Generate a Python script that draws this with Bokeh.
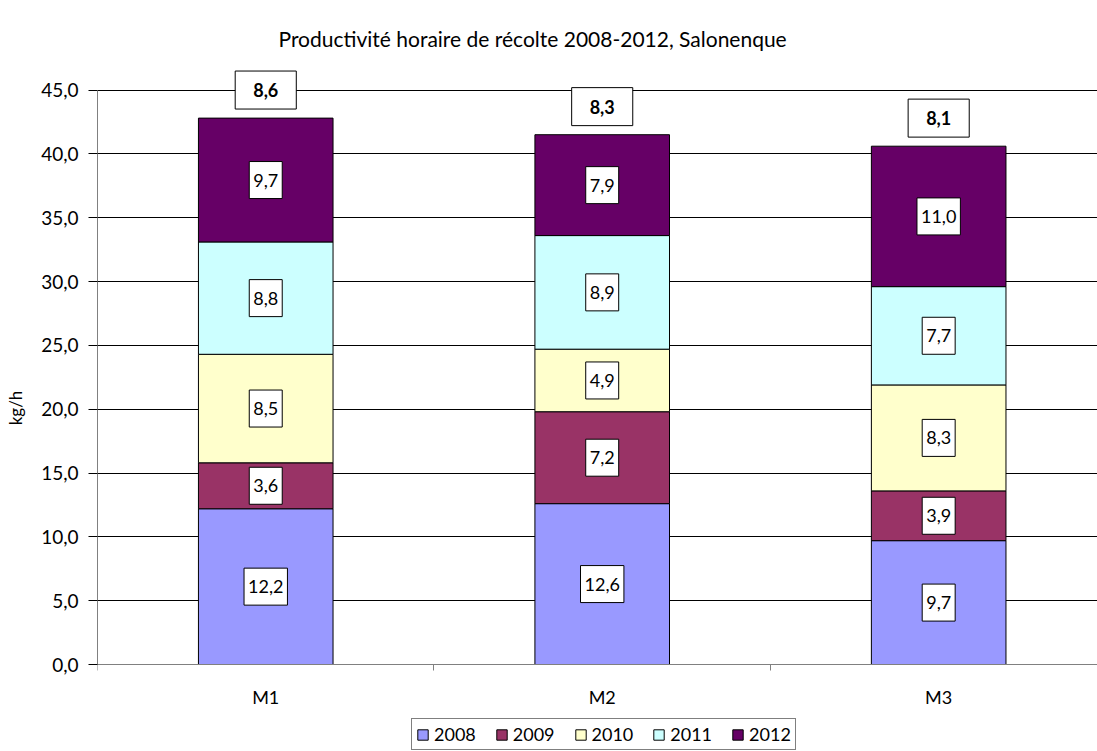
from bokeh.plotting import figure
from bokeh.models import (Range1d, FixedTicker, CustomJSTickFormatter, ColumnDataSource,
                          Legend, LegendItem, LinearAxis)
from bokeh.embed import file_html
from bokeh.resources import INLINE
from bokeh.core.properties import value

# ---------------- data ----------------
categories = ["M1", "M2", "M3"]
years = ["2008", "2009", "2010", "2011", "2012"]
v2008 = [12.2, 12.6, 9.7]
v2009 = [3.6, 7.2, 3.9]
v2010 = [8.5, 4.9, 8.3]
v2011 = [8.8, 8.9, 7.7]
v2012 = [9.7, 7.9, 11.0]
moyenne = [8.6, 8.3, 8.1]
y_ticks = [0, 5, 10, 15, 20, 25, 30, 35, 40, 45]
colors = ["#9999FF", "#993366", "#FFFFCC", "#CCFFFF", "#660066"]

FONT = "Lato"
series = [v2008, v2009, v2010, v2011, v2012]


def fmt(v):
    return f"{v:.1f}".replace(".", ",")


xc = [i + 0.5 for i in range(len(categories))]
bounds = list(range(len(categories) + 1))

data = dict(x=xc)
for y, vals in zip(years, series):
    data[y] = vals
src = ColumnDataSource(data)

p = figure(frame_width=1000, frame_height=687, output_backend="svg", toolbar_location=None,
           x_range=Range1d(0, 2.972), y_range=Range1d(-6.815, 47),
           x_axis_location=None,
           min_border_left=97, min_border_right=0, min_border_top=64, min_border_bottom=0)
p.outline_line_color = None

renderers = p.vbar_stack(years, x="x", width=0.4, source=src,
                         fill_color=colors, line_color="black", line_width=1)

# segment labels
lx, ly, lt = [], [], []
totals = []
for i in range(len(categories)):
    base = 0.0
    for vals in series:
        v = vals[i]
        lx.append(xc[i])
        ly.append(base + v / 2)
        lt.append(fmt(v))
        base += v
    totals.append(base)

p.text(x=lx, y=ly, text=lt, text_align="center", text_baseline="middle",
       text_font=value(FONT), text_font_size="18px", text_color="black",
       background_fill_color="white", border_line_color="black", border_line_width=1,
       padding=(4, 4, 12, 12))

p.text(x=xc, y=[t + 2.2 for t in totals], text=[fmt(m) for m in moyenne],
       text_align="center", text_baseline="middle",
       text_font=value(FONT), text_font_size="18px", text_font_style="bold", text_color="black",
       background_fill_color="white", border_line_color="black", border_line_width=1,
       padding=(18, 18, 12, 12))

# title
p.title.text = "Productivité horaire de récolte 2008-2012, Salonenque"
p.title.text_font = FONT
p.title.text_font_size = "21px"
p.title.text_font_style = "normal"
p.title.text_color = "black"
p.title.align = "left"
p.title.offset = 181
p.title.standoff = 27

# y axis
p.yaxis.ticker = FixedTicker(ticks=y_ticks)
p.yaxis.bounds = (0, 45)
p.yaxis.formatter = CustomJSTickFormatter(code="return tick.toFixed(1).replace('.', ',');")
p.yaxis.major_tick_out = 9
p.yaxis.major_tick_in = 0
p.yaxis.minor_tick_line_color = None
p.yaxis.major_tick_line_color = "black"
p.yaxis.axis_line_color = "#808080"
p.yaxis.major_label_text_font = FONT
p.yaxis.major_label_text_font_size = "19px"
p.yaxis.major_label_text_color = "black"
p.yaxis.major_label_standoff = 10
p.yaxis.axis_label = "kg/h"
p.yaxis.axis_label_text_font = FONT
p.yaxis.axis_label_text_font_size = "17px"
p.yaxis.axis_label_text_font_style = "normal"
p.yaxis.axis_label_text_color = "black"
p.yaxis.axis_label_standoff = 12

# x axis drawn at y = 0 inside the frame
xaxis = LinearAxis(fixed_location=0)
xaxis.ticker = FixedTicker(ticks=xc, minor_ticks=bounds)
xaxis.formatter = CustomJSTickFormatter(args=dict(cats=categories),
                                        code="return cats[Math.floor(tick)];")
xaxis.major_tick_line_color = None
xaxis.major_tick_out = 0
xaxis.major_tick_in = 0
xaxis.minor_tick_out = 6
xaxis.minor_tick_in = 0
xaxis.minor_tick_line_color = "#808080"
xaxis.axis_line_color = "#808080"
xaxis.major_label_text_font = FONT
xaxis.major_label_text_font_size = "18px"
xaxis.major_label_text_color = "black"
xaxis.major_label_standoff = 15
p.add_layout(xaxis, "below")

p.xgrid.visible = False
p.ygrid.grid_line_color = "black"
p.ygrid.grid_line_width = 1

legend = Legend(items=[LegendItem(label=y, renderers=[r]) for y, r in zip(years, renderers)],
                orientation="horizontal", location=(314, 1),
                label_text_font=FONT, label_text_font_size="18px", label_text_color="black",
                glyph_width=13, glyph_height=13, label_standoff=5, spacing=19,
                label_height=16, padding=4, margin=0,
                border_line_color="black", border_line_width=1, background_fill_alpha=1)
p.add_layout(legend, "center")

open("out.html", "w").write(file_html(p, INLINE))
